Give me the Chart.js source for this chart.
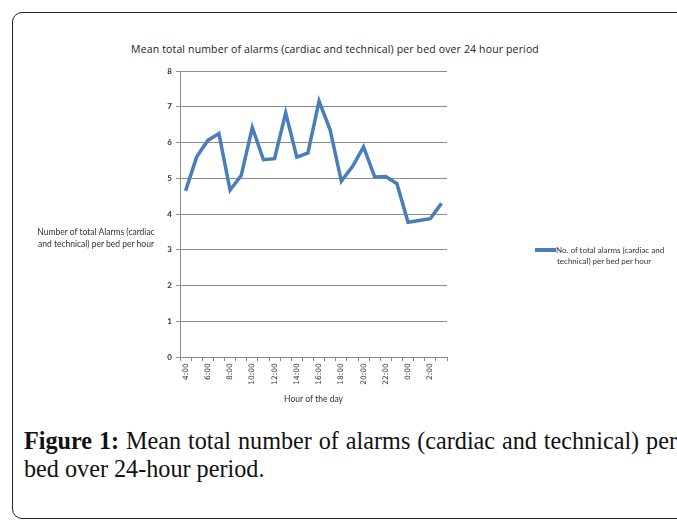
<!DOCTYPE html>
<html>
<head>
<meta charset="utf-8">
<script src="https://cdn.jsdelivr.net/npm/chart.js@4"></script>
<style>
    body { margin: 0; width: 677px; height: 520px; overflow: hidden; position: relative; background: #fff; font-family: Lato, "Open Sans", sans-serif; }
    #frame { position: absolute; left: 12px; top: 12px; width: 720px; height: 505px; border: 1.5px solid #222; border-radius: 10px 0 0 10px; }
    #chartBox { position: absolute; left: 0; top: 30px; width: 677px; height: 385px; }
    #title { position: absolute; left: 0; top: 42px; width: 670px; text-align: center; font-family: "Open Sans", sans-serif; font-size: 10.5px; letter-spacing: 0.15px; color: #222; }
    #yTitle { position: absolute; left: 30px; top: 226px; width: 132px; text-align: center; font-size: 8.5px; line-height: 12px; color: #333; }
    #legend { position: absolute; left: 535px; top: 245px; font-size: 8px; line-height: 11px; color: #333; }
    #legend .swatch { display: inline-block; width: 21px; height: 4px; background: #4a7ebb; vertical-align: middle; margin-top: -2px; }
    #legend .l2 { padding-left: 22px; }
    .caption { position: absolute; left: 24px; width: 653px; font-family: "Liberation Serif", "DejaVu Serif", serif; font-size: 24.2px; color: #111; white-space: nowrap; }
    #cap1 { top: 427px; text-align: justify; text-align-last: justify; white-space: normal; }
    #cap2 { top: 455px; }
</style>
</head>
<body>
<div id="frame"></div>
<div id="title">Mean total number of alarms (cardiac and technical) per bed over 24 hour period</div>
<div id="chartBox"><canvas id="alarmChart" width="677" height="385"></canvas></div>
<div id="yTitle">Number of total Alarms (cardiac<br>and technical) per bed per hour</div>
<div id="legend"><span class="swatch"></span>No. of total alarms (cardiac and<div class="l2">technical) per bed per hour</div></div>
<div class="caption" id="cap1"><b>Figure 1:</b> Mean total number of alarms (cardiac and technical) per</div>
<div class="caption" id="cap2">bed over 24-hour period.</div>

<script>
// Hour of the day, starting at 4:00
const hours = ['4:00', '5:00', '6:00', '7:00', '8:00', '9:00', '10:00', '11:00', '12:00', '13:00', '14:00', '15:00',
    '16:00', '17:00', '18:00', '19:00', '20:00', '21:00', '22:00', '23:00', '0:00', '1:00', '2:00', '3:00'];

// Mean total alarms per bed per hour
const alarms = [4.65, 5.6, 6.06, 6.25, 4.67, 5.08, 6.42, 5.52, 5.55, 6.83, 5.59, 5.71,
    7.16, 6.35, 4.92, 5.33, 5.88, 5.04, 5.05, 4.85, 3.77, 3.82, 3.87, 4.3];

const yMin = 0;
const yMax = 8;

const axisGray = '#8c8c8c';
const textColor = '#333333';

function initializeAlarmChart() {
    const ctx = document.getElementById('alarmChart');
    if (!ctx) return;

    window.alarmChart = new Chart(ctx, {
        type: 'line',
        data: {
            labels: hours,
            datasets: [{
                label: 'No. of total alarms (cardiac and technical) per bed per hour',
                data: alarms,
                borderColor: '#4a7ebb',
                borderWidth: 3.5,
                pointRadius: 0,
                tension: 0,
                fill: false
            }]
        },
        options: {
            responsive: false,
            animation: false,
            layout: {
                padding: { left: 160, right: 230, top: 41, bottom: 11 }
            },
            scales: {
                y: {
                    min: yMin,
                    max: yMax,
                    afterFit: (scale) => { scale.width = 20; },
                    ticks: {
                        stepSize: 1,
                        color: textColor,
                        padding: 4,
                        font: { family: 'Lato', size: 8, weight: 'bold' }
                    },
                    grid: {
                        color: axisGray,
                        tickLength: 4
                    },
                    border: { color: axisGray }
                },
                x: {
                    offset: true,
                    ticks: {
                        autoSkip: false,
                        maxRotation: 90,
                        minRotation: 90,
                        padding: 2,
                        color: textColor,
                        font: { family: 'DejaVu Sans', size: 7.5 },
                        callback: function (value, index) {
                            return index % 2 === 0 ? this.getLabelForValue(value) : '';
                        }
                    },
                    grid: {
                        offset: true,
                        drawOnChartArea: false,
                        color: axisGray,
                        tickLength: 4
                    },
                    border: { color: axisGray },
                    title: {
                        display: true,
                        text: 'Hour of the day',
                        color: textColor,
                        font: { family: 'Lato', size: 8.5 },
                        padding: { top: 7, bottom: 0 }
                    }
                }
            },
            plugins: {
                legend: { display: false },
                tooltip: { enabled: false }
            }
        }
    });
}

initializeAlarmChart();
</script>
</body>
</html>
